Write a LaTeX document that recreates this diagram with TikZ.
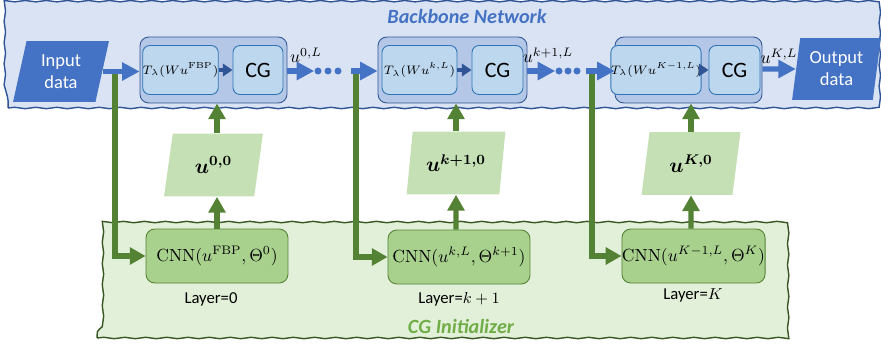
\documentclass[tikz,border=0pt]{standalone}
\usepackage{amsmath}
\usepackage{bm}
\usepackage[no-math]{fontspec}
\setmainfont{Carlito}
\usetikzlibrary{arrows.meta}
\usetikzlibrary{shapes.geometric}
\usetikzlibrary{decorations.pathmorphing}
\usetikzlibrary{calc}

\definecolor{bbfill}{HTML}{DAE3F3}
\definecolor{bbline}{HTML}{2F5597}
\definecolor{blkfill}{HTML}{B4C7E7}
\definecolor{infill}{HTML}{BDD7EE}
\definecolor{inline}{HTML}{2E75B6}
\definecolor{bblue}{HTML}{4472C4}
\definecolor{cgfill}{HTML}{E2F0D9}
\definecolor{cgline}{HTML}{385723}
\definecolor{cnnfill}{HTML}{A9D18E}
\definecolor{gline}{HTML}{548235}
\definecolor{pfill}{HTML}{C5E0B4}
\definecolor{gtitle}{HTML}{70AD47}

\tikzset{
	panel/.style={draw, line width=.8pt, inner sep=0pt, decorate,
		decoration={snake, amplitude=.4pt, segment length=12pt}},
	blk/.style={draw=bbline, fill=blkfill, line width=.5pt, rounded corners=5pt,
		minimum height=1.32cm, inner sep=0pt},
	inbox/.style={draw=inline, fill=infill, line width=.5pt, rounded corners=4pt,
		minimum height=0.98cm, inner sep=0pt},
	cnn/.style={draw=gline, fill=cnnfill, line width=.5pt, rounded corners=5pt,
		minimum width=2.84cm, minimum height=1.08cm, inner sep=0pt,
		font=\fontsize{10}{12}\selectfont},
	iodata/.style={trapezium, trapezium stretches=true, fill=bblue, text=white,
		inner sep=0pt, align=center, font=\fontsize{10.5}{12.5}\selectfont},
	uinit/.style={trapezium, trapezium stretches=true, fill=pfill,
		trapezium left angle=76.5, trapezium right angle=103.5,
		minimum width=1.98cm, minimum height=1.26cm, inner sep=0pt,
		font=\fontsize{11.5}{13}\selectfont},
	dot/.style={circle, fill=bblue, minimum size=0.14cm, inner sep=0pt},
	barrow/.style={draw=bblue, line width=3pt, -{Triangle[length=10pt, width=10pt]}},
	darrow/.style={draw=bbline, line width=1.8pt, -{Triangle[length=5.5pt, width=7pt]}},
	garrow/.style={draw=gline, line width=3pt, -{Triangle[length=9pt, width=9.5pt]}},
	ulab/.style={font=\fontsize{10}{12}\selectfont},
	layer/.style={font=\fontsize{9.5}{11}\selectfont},
}

\begin{document}
\begin{tikzpicture}[x=0.02cm, y=-0.02cm]
	\useasboundingbox (0,0) rectangle (881,345);
	% panels
	\node[panel, draw=bbline, fill=bbfill, minimum width=17.4cm, minimum height=2.1cm] (backbone) at (443,55.5) {};
	\node[panel, draw=cgline, fill=cgfill, minimum width=13.72cm, minimum height=2.36cm] (init) at (440,279) {};
	\node[text=bblue, font=\fontsize{11.5}{13}\selectfont\bfseries\itshape] (bbtitle) at (467,16) {Backbone Network};
	\node[text=gtitle, font=\fontsize{11.5}{13}\selectfont\bfseries\itshape] (cgtitle) at (461,326) {CG Initializer};

	% backbone blocks
	\node[iodata, trapezium left angle=77, trapezium right angle=103, minimum width=1.92cm, minimum height=1.22cm] (in) at (61,71.5) {Input\\data};
	\node[iodata, trapezium left angle=80, trapezium right angle=100, minimum width=1.78cm, minimum height=1.24cm] (out) at (836.5,69) {Output\\data};

	\node[blk, minimum width=2.94cm] (blk1) at (213.5,70) {};
	\node[inbox, minimum width=1.38cm, font=\fontsize{7.5}{9}\selectfont] (t1) at (180.5,70) {$T_\lambda(Wu^{\mathrm{FBP}})$};
	\node[inbox, minimum width=1.0cm, font=\fontsize{12.5}{14}\selectfont] (cg1) at (258,70) {CG};

	\node[blk, minimum width=2.98cm] (blk2) at (452.5,70) {};
	\node[inbox, minimum width=1.5cm, font=\fontsize{7.5}{9}\selectfont] (t2) at (419.5,70) {$T_\lambda(Wu^{k,L})$};
	\node[inbox, minimum width=1.02cm, font=\fontsize{12.5}{14}\selectfont] (cg2) at (497.5,70) {CG};

	\node[blk, minimum width=2.94cm] (blk3) at (688.5,70) {};
	\node[inbox, minimum width=1.56cm, font=\fontsize{7.5}{9}\selectfont] (t3) at (656,70) {$T_\lambda(Wu^{K-1,L})$};
	\node[inbox, minimum width=1.02cm, font=\fontsize{12.5}{14}\selectfont] (cg3) at (734.5,70) {CG};

	\foreach \i/\x in {1/318,2/328,3/338} \node[dot] (a\i) at (\x,71) {};
	\foreach \i/\x in {1/559,2/568,3/577} \node[dot] (b\i) at (\x,71) {};

	\node[ulab] (l1) at (306,55) {$u^{0,L}$};
	\node[ulab] (l2) at (548,55) {$u^{k+1,L}$};
	\node[ulab] (l3) at (779,56) {$u^{K,L}$};

	% initializer
	\node[uinit] (p1) at (213.5,165) {$\bm{u^{0,0}}$};
	\node[uinit] (p2) at (456,163) {$\bm{u^{k+1,0}}$};
	\node[uinit] (p3) at (691,163.5) {$\bm{u^{K,0}}$};

	\node[cnn] (cnn1) at (217,256) {$\mathrm{CNN}(u^{\mathrm{FBP}},\Theta^{0})$};
	\node[cnn] (cnn2) at (459,257) {$\mathrm{CNN}(u^{k,L},\Theta^{k+1})$};
	\node[cnn] (cnn3) at (693.5,256) {$\mathrm{CNN}(u^{K-1,L},\Theta^{K})$};

	\node[layer] (y1) at (211,299) {Layer=0};
	\node[layer] (y2) at (459,299) {Layer=$k+1$};
	\node[layer] (y3) at (693,295) {Layer=$K$};

	% green connectors
	\coordinate (g1) at (115,71);
	\coordinate (g2) at (356,71);
	\coordinate (g3) at (592,71);
	\draw[garrow] (g1) |- (cnn1.west);
	\draw[garrow] (g2) |- (cnn2.west);
	\draw[garrow] (g3) |- (cnn3.west);
	\draw[garrow] (cnn1.north) -- (cnn1.north |- p1.south);
	\draw[garrow] (cnn1.north |- p1.north) -- (cnn1.north |- blk1.south);
	\draw[garrow] (cnn2.north -| p2) -- (p2.south);
	\draw[garrow] (p2.north) -- (p2.north |- blk2.south);
	\draw[garrow] (cnn3.north -| p3) -- (p3.south);
	\draw[garrow] (p3.north) -- (p3.north |- blk3.south);

	% blue connectors
	\draw[barrow] (in.east) -- (in.east -| blk1.west);
	\draw[darrow] (t1) -- (cg1);
	\draw[barrow] (blk1.east |- a1) -- (a1.west);
	\draw[barrow, shorten <=5pt] (a3.east) -- (a3 -| blk2.west);
	\draw[darrow] (t2) -- (cg2);
	\draw[barrow] (blk2.east |- b1) -- (b1.west);
	\draw[barrow, shorten <=3pt] (b3.east) -- (b3 -| blk3.west);
	\draw[darrow] (t3) -- (cg3);
	\draw[barrow] (blk3.east |- out) -- (out.west);
\end{tikzpicture}
\end{document}
